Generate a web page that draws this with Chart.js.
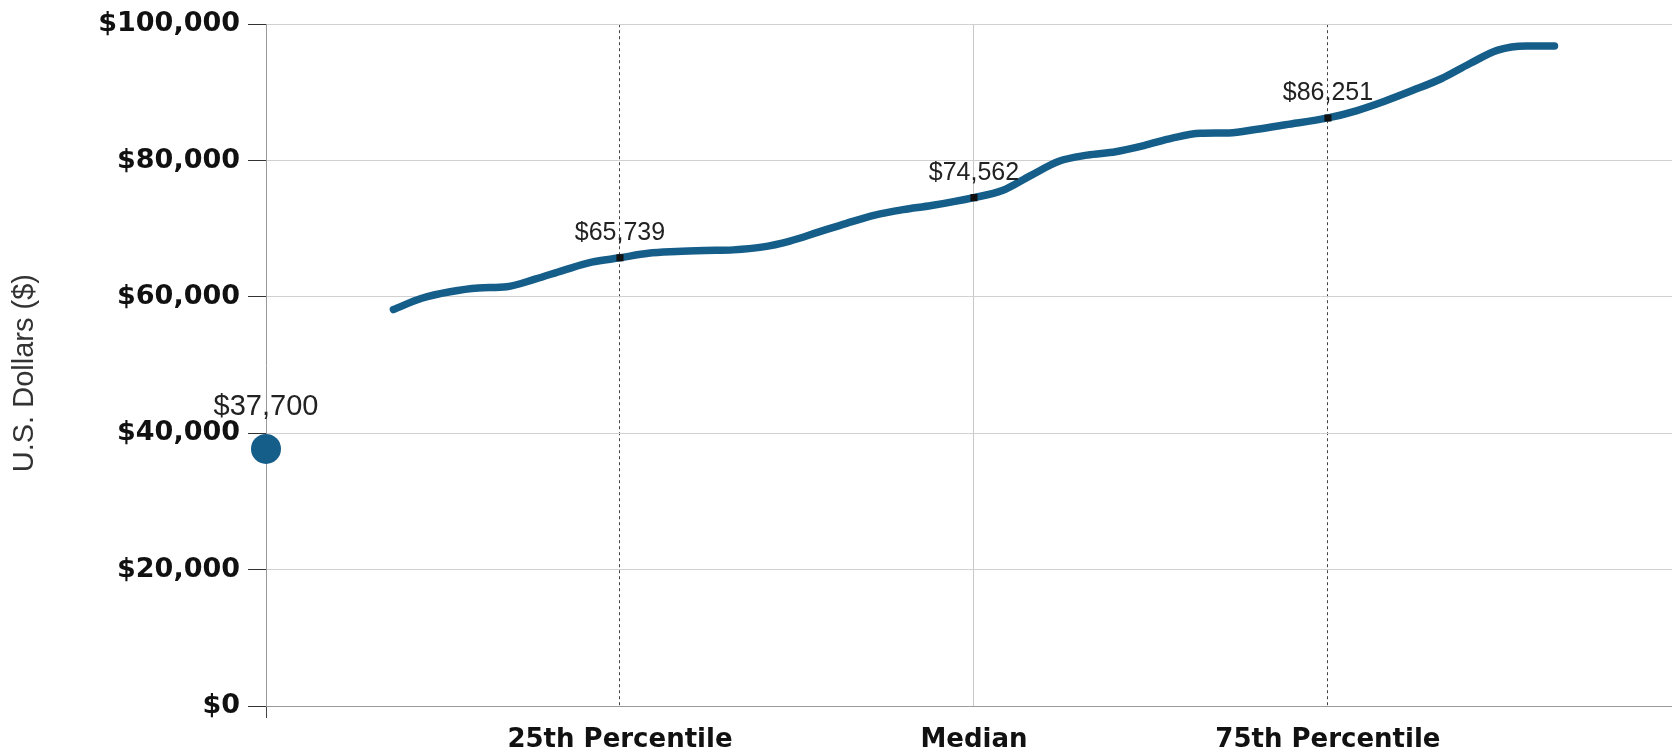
<!DOCTYPE html>
<html>
<head>
<meta charset="utf-8">
<script src="https://cdn.jsdelivr.net/npm/chart.js@4.4.1/dist/chart.umd.min.js"></script>
<style>
    html, body { margin: 0; padding: 0; background: #fff; }
    #wrap { width: 1672px; height: 755px; }
</style>
</head>
<body>
<div id="wrap"><canvas id="salaryChart" width="1672" height="755"></canvas></div>
<script>
// salary curve (x = percentile, y = dollars)
const curvePercentiles = [9, 11, 13, 15, 17, 19, 21, 23, 25, 27, 29, 31, 33, 35, 37, 39, 41, 43, 45, 47, 50,
    52, 54, 56, 58, 60, 62, 64, 66, 68, 70, 72, 75, 77, 79, 81, 83, 85, 87, 89, 91];
const curveSalaries = [58150, 59800, 60750, 61300, 61500, 62600, 63900, 65100, 65739, 66400, 66650, 66800, 66900, 67300,
    68200, 69500, 70800, 72000, 72800, 73400, 74562, 75600, 77800, 79900, 80800, 81300, 82200, 83300, 84000, 84050,
    84600, 85250, 86251, 87300, 88700, 90300, 92000, 94200, 96200, 96800, 96800];

// labelled points on the curve
const markerPercentiles = [25, 50, 75];
const markerSalaries = [65739, 74562, 86251];

// single entry value drawn as a big dot on the axis
const entryPercentiles = [0];
const entrySalaries = [37700];

const xTickValues = [0, 25, 50, 75];
const xTickLabels = ['', '25th Percentile', 'Median', '75th Percentile'];

const lineColor = '#165e8a';

const money = (v) => '$' + Math.round(v).toLocaleString('en-US');
const toPoints = (xs, ys) => xs.map((x, i) => ({ x: x, y: ys[i] }));

// draws the "$65,739" style labels above points
const valueLabels = {
    id: 'valueLabels',
    afterDatasetsDraw(chart) {
        const ctx = chart.ctx;
        chart.data.datasets.forEach((ds, i) => {
            if (!ds.labelOffset) return;
            const meta = chart.getDatasetMeta(i);
            meta.data.forEach((pt, j) => {
                ctx.save();
                ctx.font = ds.labelSize + 'px "Liberation Sans", Arial, sans-serif';
                ctx.fillStyle = '#222';
                ctx.textAlign = 'center';
                ctx.textBaseline = 'alphabetic';
                ctx.fillText(money(ds.data[j].y), pt.x, pt.y - ds.labelOffset);
                ctx.restore();
            });
        });
    }
};

const tickFont = { family: '"DejaVu Sans", Verdana, sans-serif', weight: 'bold', size: 27 };

new Chart(document.getElementById('salaryChart').getContext('2d'), {
    type: 'line',
    data: {
        datasets: [{
            data: toPoints(markerPercentiles, markerSalaries),
            showLine: false,
            pointStyle: 'rect',
            pointRadius: 5,
            pointBackgroundColor: '#111',
            pointBorderWidth: 0,
            labelOffset: 18,
            labelSize: 25,
            order: 0
        }, {
            data: toPoints(curvePercentiles, curveSalaries),
            borderColor: lineColor,
            borderWidth: 7.5,
            borderCapStyle: 'round',
            cubicInterpolationMode: 'monotone',
            pointRadius: 0,
            fill: false,
            order: 1
        }, {
            data: toPoints(entryPercentiles, entrySalaries),
            showLine: false,
            pointRadius: 15,
            pointBackgroundColor: lineColor,
            pointBorderWidth: 0,
            labelOffset: 34,
            labelSize: 29,
            clip: false,
            order: 2
        }]
    },
    options: {
        responsive: false,
        animation: false,
        events: [],
        devicePixelRatio: 1,
        layout: {
            autoPadding: false,
            padding: { top: 23, right: 0, bottom: 0, left: 0 }
        },
        plugins: {
            legend: { display: false },
            tooltip: { enabled: false }
        },
        scales: {
            x: {
                type: 'linear',
                min: 0,
                max: 99.3,
                afterBuildTicks: (scale) => {
                    scale.ticks = xTickValues.map(v => ({ value: v }));
                },
                afterFit: (scale) => {
                    scale.height = 49;
                },
                ticks: {
                    autoSkip: false,
                    maxRotation: 0,
                    padding: 7,
                    color: '#111',
                    font: { family: tickFont.family, weight: 'bold', size: 26 },
                    callback: (value) => xTickLabels[xTickValues.indexOf(value)]
                },
                grid: {
                    lineWidth: 1,
                    tickLength: 12,
                    color: (c) => {
                        if (!c.tick) return 'rgba(0,0,0,0)';
                        if (c.tick.value === 50) return '#c8c8c8';
                        if (c.tick.value === 25 || c.tick.value === 75) return '#444';
                        return 'rgba(0,0,0,0)';
                    },
                    tickColor: (c) => (c.tick && c.tick.value === 0 ? '#444' : 'rgba(0,0,0,0)')
                },
                border: {
                    color: '#999',
                    dash: (c) => (c.tick && c.tick.value !== 50 ? [3, 3] : [])
                }
            },
            y: {
                min: 0,
                max: 100000,
                afterFit: (scale) => {
                    scale.width = 266;
                },
                ticks: {
                    stepSize: 20000,
                    padding: 8,
                    color: '#111',
                    font: tickFont,
                    callback: (value) => money(value)
                },
                grid: {
                    color: '#d0d0d0',
                    tickColor: '#333',
                    tickLength: 18
                },
                border: { color: '#999' },
                title: {
                    display: true,
                    // trailing spaces nudge the rotated title a little lower, as in the picture
                    text: 'U.S. Dollars ($)  ',
                    color: '#333',
                    font: { family: '"Liberation Sans", Arial, sans-serif', size: 29 },
                    padding: { top: 8, bottom: 0 }
                }
            }
        }
    },
    plugins: [valueLabels]
});
</script>
</body>
</html>
